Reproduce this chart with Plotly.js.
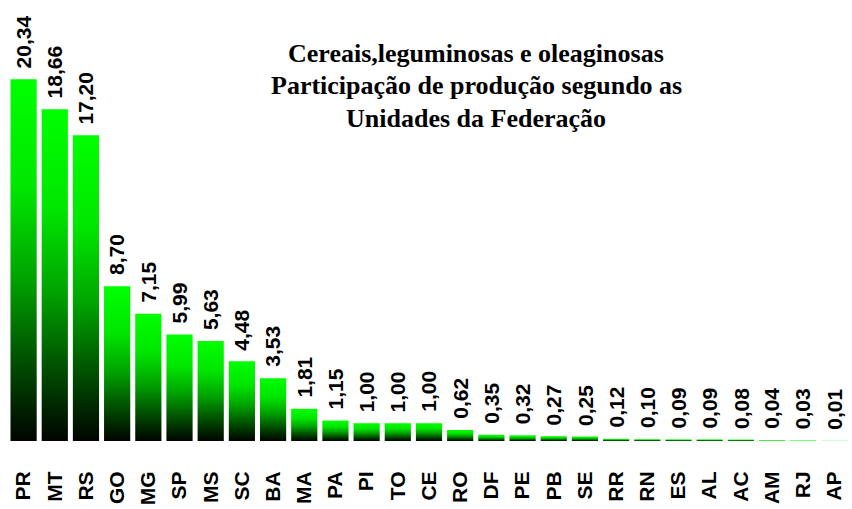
<!DOCTYPE html>
<html>
<head>
<meta charset="utf-8">
<script src="https://cdn.plot.ly/plotly-3.0.1.min.js"></script>
<style>html,body{margin:0;padding:0;background:#fff;}#chart{width:852px;height:509px;}</style>
</head>
<body>
<div id="chart"></div>
<script>
const states = ["PR","MT","RS","GO","MG","SP","MS","SC","BA","MA","PA","PI","TO","CE","RO","DF","PE","PB","SE","RR","RN","ES","AL","AC","AM","RJ","AP"];
const shares = [20.34,18.66,17.20,8.70,7.15,5.99,5.63,4.48,3.53,1.81,1.15,1.00,1.00,1.00,0.62,0.35,0.32,0.27,0.25,0.12,0.10,0.09,0.09,0.08,0.04,0.03,0.01];
const labels = shares.map(v => v.toFixed(2).replace('.', ','));
const titleLines = ["Cereais,leguminosas e oleaginosas","Participação de produção segundo as","Unidades da Federação"];

const sansBold = {family: 'Liberation Sans, Arial, sans-serif', size: 21, weight: 'bold', color: '#000'};

const trace = {
  type: 'bar',
  x: states,
  y: shares,
  marker: {color: '#00ff00', line: {width: 0}},
  hoverinfo: 'none'
};

const valueAnnotations = states.map((s, i) => ({
  xref: 'x', yref: 'y', x: s, y: shares[i],
  text: labels[i], showarrow: false, textangle: -90,
  xanchor: 'center', yanchor: 'bottom', yshift: 9,
  font: sansBold
}));

const titleY = [0.878, 0.805, 0.731];
const titleAnnotations = titleLines.map((t, i) => ({
  xref: 'paper', yref: 'paper', x: 0.556, y: titleY[i], xanchor: 'center', yanchor: 'middle',
  text: t, showarrow: false,
  font: {family: 'Liberation Serif, Times New Roman, serif', size: 26, weight: 'bold', color: '#000'}
}));

const layout = {
  width: 852, height: 509,
  margin: {l: 8, r: 2, t: 0, b: 68},
  paper_bgcolor: '#fff', plot_bgcolor: '#fff',
  showlegend: false,
  bargap: 0.16,
  xaxis: {
    type: 'category',
    tickangle: -90,
    tickfont: {family: 'Liberation Sans, Arial, sans-serif', size: 21, weight: 'bold', color: '#000'},
    ticks: 'outside', ticklen: 21, tickcolor: 'rgba(0,0,0,0)',
    showline: false, showgrid: false, zeroline: false
  },
  yaxis: {
    range: [0, 24.8],
    visible: false, showgrid: false, zeroline: false
  },
  annotations: valueAnnotations.concat(titleAnnotations)
};

Plotly.newPlot('chart', [trace], layout, {staticPlot: true}).then(gd => {
  const svg = gd.querySelector('svg.main-svg');
  const ns = 'http://www.w3.org/2000/svg';
  let defs = svg.querySelector('defs');
  if (!defs) { defs = document.createElementNS(ns, 'defs'); svg.insertBefore(defs, svg.firstChild); }
  const g = document.createElementNS(ns, 'linearGradient');
  g.setAttribute('id', 'barGrad');
  g.setAttribute('x1', '0'); g.setAttribute('y1', '0');
  g.setAttribute('x2', '0'); g.setAttribute('y2', '1');
  const stops = [[0,'#00ff00'],[0.3,'#00e600'],[0.55,'#00a300'],[0.75,'#005a00'],[0.9,'#002500'],[1,'#000500']];
  stops.forEach(([o,c]) => {
    const s = document.createElementNS(ns, 'stop');
    s.setAttribute('offset', o); s.setAttribute('stop-color', c);
    g.appendChild(s);
  });
  defs.appendChild(g);
  gd.querySelectorAll('.bars .point path').forEach(p => { p.style.fill = 'url(#barGrad)'; });
});
</script>
</body>
</html>
